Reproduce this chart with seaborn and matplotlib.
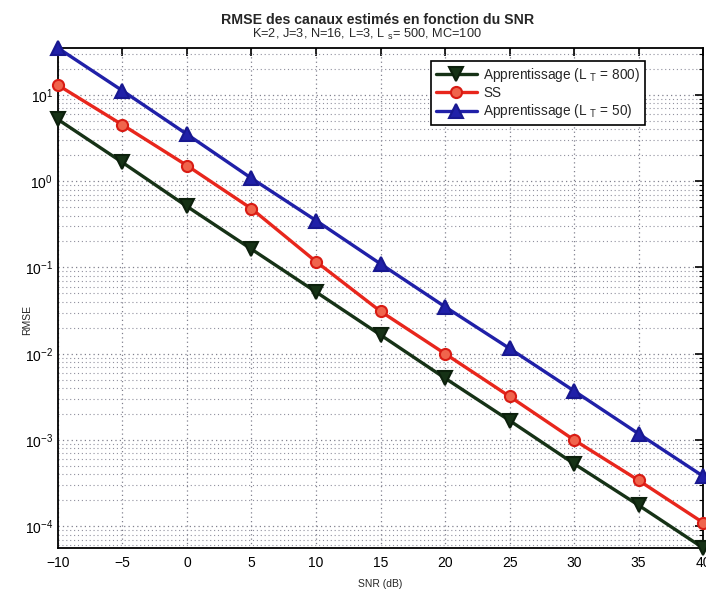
import numpy as np
import pandas as pd
import seaborn as sns
import matplotlib
matplotlib.use("Agg")
import matplotlib.pyplot as plt
from matplotlib.ticker import LogLocator, NullFormatter, FixedLocator

# SNR grid (dB)
snr_db = [-10, -5, 0, 5, 10, 15, 20, 25, 30, 35, 40]

# RMSE of the estimated channels
rmse_lt800 = [5.2, 1.65, 0.51, 0.163, 0.052, 0.0165, 0.0052, 0.00168, 0.00053, 0.000175, 0.000056]
rmse_ss = [13.0, 4.5, 1.52, 0.48, 0.117, 0.031, 0.0100, 0.0032, 0.00100, 0.00034, 0.000110]
rmse_lt50 = [35.0, 11.2, 3.5, 1.08, 0.35, 0.110, 0.035, 0.0115, 0.0037, 0.00118, 0.00038]

labels = ["Apprentissage (L $_T$ = 800)", "SS", "Apprentissage (L $_T$ = 50)"]
xticks = [-10, -5, 0, 5, 10, 15, 20, 25, 30, 35, 40]

sns.set_style("white")
plt.rcParams["font.family"] = ["Liberation Sans", "DejaVu Sans"]
plt.rcParams["mathtext.fontset"] = "custom"
plt.rcParams["mathtext.rm"] = "Liberation Sans"
plt.rcParams["mathtext.it"] = "Liberation Sans"

fig = plt.figure(figsize=(7.06, 5.91), dpi=100)
ax = fig.add_axes([0.082, 0.0728, 0.914, 0.846])

styles = [
    dict(y=rmse_lt800, label=labels[0], color="#163216", marker="v", ms=10, mfc="#163216", mec="#0c200c"),
    dict(y=rmse_ss, label=labels[1], color="#e8261c", marker="o", ms=8, mfc="#f0644c", mec="#d81c14"),
    dict(y=rmse_lt50, label=labels[2], color="#2020a8", marker="^", ms=10, mfc="#2020a8", mec="#181890"),
]

for s in styles:
    sns.lineplot(x=snr_db, y=s["y"], ax=ax, color=s["color"], linewidth=2.4,
                 marker=s["marker"], markersize=s["ms"], markerfacecolor=s["mfc"],
                 markeredgecolor=s["mec"], markeredgewidth=1.5, label=s["label"],
                 clip_on=False, zorder=3)

ax.set_yscale("log")
ax.set_xlim(-10, 40)
ax.set_ylim(min(rmse_lt800), max(rmse_lt50))

ax.xaxis.set_major_locator(FixedLocator(xticks))
ax.set_xticklabels([str(t).replace("-", "\u2212") for t in xticks])
ax.yaxis.set_major_locator(LogLocator(base=10, numticks=12))
ax.yaxis.set_minor_locator(LogLocator(base=10, subs=np.arange(2, 10), numticks=12))
ax.yaxis.set_minor_formatter(NullFormatter())

# dotted grid on major and minor ticks
ax.grid(True, which="major", axis="both", linestyle=(0, (1, 2.5)), color="#80808e", linewidth=0.9)
ax.grid(True, which="minor", axis="y", linestyle=(0, (1, 2.5)), color="#90909e", linewidth=0.8)

ax.tick_params(axis="both", which="both", direction="in", top=True, right=True, colors="black")
ax.tick_params(axis="both", which="major", length=6, width=1.2, labelsize=10)
ax.tick_params(axis="x", which="major", pad=6)
ax.tick_params(axis="y", which="minor", length=3, width=0.8)
for sp in ax.spines.values():
    sp.set_color("black")
    sp.set_linewidth(1.3)

ax.set_xlabel("SNR (dB)", fontsize=7.5)
ax.set_ylabel("RMSE", fontsize=7.5)
ax.xaxis.set_label_coords(0.5, -0.062)
ax.yaxis.set_label_coords(-0.040, 0.456)

fig.text(0.535, 0.966, "RMSE des canaux estimés en fonction du SNR", ha="center",
         va="center", fontsize=10.2, fontweight="bold")
fig.text(0.52, 0.942, "K=2, J=3, N=16, L=3, L $_s$= 500, MC=100", ha="center",
         va="center", fontsize=9.2)

leg = ax.legend(loc="upper right", bbox_to_anchor=(0.921, 0.988), fontsize=9.8,
                frameon=True, fancybox=False, edgecolor="black", framealpha=1,
                handlelength=3.0, labelspacing=0.18, borderpad=0.35, handletextpad=0.5)
leg.get_frame().set_linewidth(1.2)

fig.savefig("out.png", dpi=100, facecolor="white")
